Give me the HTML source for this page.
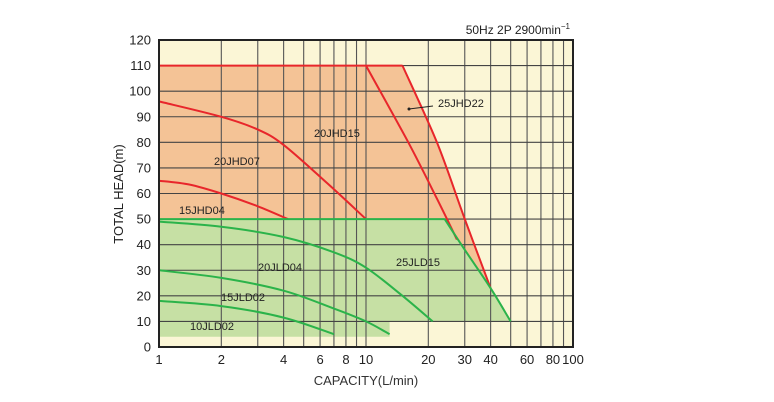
<!DOCTYPE html>
<html><head><meta charset="utf-8"><style>
html,body{margin:0;padding:0;background:#fff;}
svg{display:block;font-family:"Liberation Sans",Arial,sans-serif;}
</style></head><body>
<svg id="c" width="774" height="402" xmlns="http://www.w3.org/2000/svg"></svg>
<script>
var L=159,R=573,T=40,B=347;
function X(q){return L+207*Math.log10(q);}
function Y(h){return B-h*(B-T)/120;}
function P(a){return a.map(function(p){return X(p[0]).toFixed(1)+','+Y(p[1]).toFixed(1);}).join(' ');}
function segs(a){
 var pts=a.map(function(p){return [X(p[0]),Y(p[1])];});var out=[];
 for(var i=0;i<pts.length-1;i++){
  var p0=pts[i-1]||pts[i],p1=pts[i],p2=pts[i+1],p3=pts[i+2]||p2;
  out.push([p1,[p1[0]+(p2[0]-p0[0])/6,p1[1]+(p2[1]-p0[1])/6],[p2[0]-(p3[0]-p1[0])/6,p2[1]-(p3[1]-p1[1])/6],p2]);
 }
 return out;
}
function smooth(a){
 var sg=segs(a);var d='M'+sg[0][0][0].toFixed(1)+','+sg[0][0][1].toFixed(1);
 sg.forEach(function(g){d+=' C'+g[1][0].toFixed(1)+','+g[1][1].toFixed(1)+' '+g[2][0].toFixed(1)+','+g[2][1].toFixed(1)+' '+g[3][0].toFixed(1)+','+g[3][1].toFixed(1);});
 return d;
}
function cont(a){ // continuation path (no M)
 var sg=segs(a);var d='';
 sg.forEach(function(g){d+=' C'+g[1][0].toFixed(1)+','+g[1][1].toFixed(1)+' '+g[2][0].toFixed(1)+','+g[2][1].toFixed(1)+' '+g[3][0].toFixed(1)+','+g[3][1].toFixed(1);});
 return d;
}
var c22=[[15,110],[22,80],[30,50],[40,23]];
var c15g=[[24,50],[30,38],[40,23],[50,10]];
var s='';
s+='<rect x="'+L+'" y="'+T+'" width="'+(R-L)+'" height="'+(B-T)+'" fill="#fbf6d6"/>';
// orange region
s+='<path fill="#f4c396" d="M'+X(1)+','+Y(110)+' L'+X(15)+','+Y(110)+cont(c22)+' L'+X(24)+','+Y(50)+' L'+X(1)+','+Y(50)+' Z"/>';
// green region
s+='<path fill="#c6e0a4" d="M'+X(1)+','+Y(50)+' L'+X(24)+','+Y(50)+cont(c15g)+' L'+X(13)+','+Y(10)+' L'+X(13)+','+Y(4)+' L'+X(1)+','+Y(4)+' Z"/>';
// grid
var xs=[2,3,4,5,6,7,8,9,10,20,30,40,50,60,70,80,90];
xs.forEach(function(q){s+='<line x1="'+X(q)+'" x2="'+X(q)+'" y1="'+T+'" y2="'+B+'" stroke="#555" stroke-width="1.1"/>';});
for(var h=10;h<120;h+=10){s+='<line x1="'+L+'" x2="'+R+'" y1="'+Y(h)+'" y2="'+Y(h)+'" stroke="#444" stroke-width="1.1"/>';}
var red='#e8262b',grn='#2bb34a';
s+='<polyline fill="none" stroke="'+red+'" stroke-width="2" points="'+P([[1,110],[15,110]])+'"/>';
s+='<path fill="none" stroke="'+red+'" stroke-width="2" d="'+smooth(c22)+'"/>';
s+='<path fill="none" stroke="'+red+'" stroke-width="2" d="'+smooth([[10,110],[16,80],[22,58],[27.5,42]])+'"/>';
s+='<path fill="none" stroke="'+red+'" stroke-width="2" d="'+smooth([[1,96],[2,90],[3,85],[4,79],[6.5,64],[10,50]])+'"/>';
s+='<path fill="none" stroke="'+red+'" stroke-width="2" d="'+smooth([[1,65],[1.4,63.5],[2,60],[3,55],[4.2,50]])+'"/>';
s+='<polyline fill="none" stroke="'+grn+'" stroke-width="2" points="'+P([[1,50],[24,50]])+'"/>';
s+='<path fill="none" stroke="'+grn+'" stroke-width="2" d="'+smooth(c15g)+'"/>';
s+='<path fill="none" stroke="'+grn+'" stroke-width="2" d="'+smooth([[1,49],[2,47],[4,43],[7,37],[10,31],[15,20],[21,10]])+'"/>';
s+='<path fill="none" stroke="'+grn+'" stroke-width="2" d="'+smooth([[1,30],[2,27],[4,22],[7,15],[10,10],[13,5]])+'"/>';
s+='<path fill="none" stroke="'+grn+'" stroke-width="2" d="'+smooth([[1,18],[2,16],[4,11.5],[7,5]])+'"/>';
s+='<rect x="'+L+'" y="'+T+'" width="'+(R-L)+'" height="'+(B-T)+'" fill="none" stroke="#222" stroke-width="2"/>';
for(var h=0;h<=120;h+=10){s+='<text x="151" y="'+(Y(h)+4.5)+'" font-size="13" text-anchor="end" fill="#222">'+h+'</text>';}
[1,2,4,6,8,10,20,30,40,60,80,100].forEach(function(q){s+='<text x="'+X(q)+'" y="364" font-size="13" text-anchor="middle" fill="#222">'+q+'</text>';});
s+='<text x="366" y="385" font-size="13" text-anchor="middle" fill="#333">CAPACITY(L/min)</text>';
s+='<text transform="translate(123,194) rotate(-90)" font-size="13" text-anchor="middle" fill="#222">TOTAL HEAD(m)</text>';
s+='<text x="570" y="34" font-size="12" text-anchor="end" fill="#222">50Hz 2P 2900min<tspan font-size="8" dy="-5">−1</tspan></text>';
function lab(t,x,y){s+='<text x="'+x+'" y="'+y+'" font-size="11" fill="#222">'+t+'</text>';}
lab('20JHD15',314,137);lab('20JHD07',214,165);lab('15JHD04',179,214);
lab('20JLD04',258,271);lab('15JLD02',221,301);lab('10JLD02',190,330);
lab('25JLD15',396,266);lab('25JHD22',438,107);
s+='<line x1="409" y1="109" x2="433" y2="106" stroke="#222" stroke-width="1"/><circle cx="409" cy="109" r="1.5" fill="#222"/>';
document.getElementById('c').innerHTML=s;
</script>
</body></html>
